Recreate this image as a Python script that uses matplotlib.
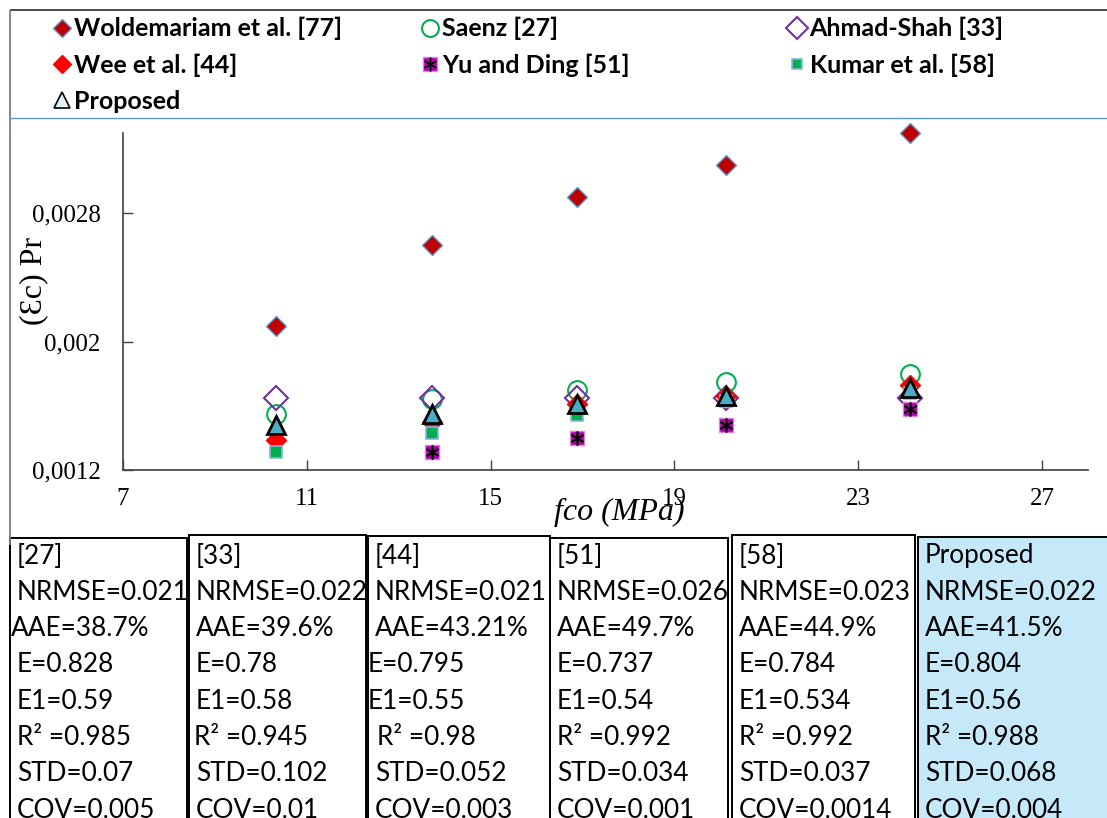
import numpy as np
import matplotlib
matplotlib.use("Agg")
import matplotlib.pyplot as plt
from matplotlib.lines import Line2D
from matplotlib.patches import Rectangle
from matplotlib.legend_handler import HandlerTuple

# ---------------- data ----------------
fco = [10.34, 13.73, 16.88, 20.13, 24.12]
woldemariam = [0.0021, 0.0026, 0.0029, 0.0031, 0.0033]
saenz = [0.00155, 0.00164, 0.0017, 0.00175, 0.0018]
ahmad_shah = [0.00165, 0.00165, 0.00165, 0.00165, 0.00165]
wee = [0.00139, 0.0015, 0.00161, 0.00166, 0.00173]
yu_ding = [np.nan, 0.00131, 0.0014, 0.00148, 0.00158]
kumar = [0.00131, 0.00143, 0.00154, 0.00163, 0.00168]
proposed = [0.00148, 0.00155, 0.00161, 0.00166, 0.00171]

series_labels = ["Woldemariam et al. [77]", "Saenz [27]", "Ahmad-Shah [33]",
                 "Wee et al. [44]", "Yu and Ding [51]", "Kumar et al. [58]", "Proposed"]

x_ticks = [7, 11, 15, 19, 23, 27]
y_ticks = [0.0012, 0.002, 0.0028]
y_tick_labels = ["0,0012", "0,002", "0,0028"]
x_label = "fco (MPa)"
y_label = "(\u0190c) Pr"

table_headers = ["[27]", "[33]", "[44]", "[51]", "[58]", "Proposed"]
nrmse = ["0.021", "0.022", "0.021", "0.026", "0.023", "0.022"]
aae = ["38.7%", "39.6%", "43.21%", "49.7%", "44.9%", "41.5%"]
e_vals = ["0.828", "0.78", "0.795", "0.737", "0.784", "0.804"]
e1_vals = ["0.59", "0.58", "0.55", "0.54", "0.534", "0.56"]
r2_vals = ["0.985", "0.945", "0.98", "0.992", "0.992", "0.988"]
std_vals = ["0.07", "0.102", "0.052", "0.034", "0.037", "0.068"]
cov_vals = ["0.005", "0.01", "0.003", "0.001", "0.0014", "0.004"]

# ---------------- styles ----------------
styles = [
    dict(marker="D", ms=10, mfc="#c00000", mec="#5b9bd5", mew=1.0),
    dict(marker="o", ms=13.5, mfc="none", mec="#00b050", mew=1.5),
    dict(marker="D", ms=12, mfc="none", mec="#7030a0", mew=1.5),
    dict(marker="D", ms=10, mfc="#ff0000", mec="#ff0000", mew=1.0),
    dict(marker="s", ms=10, mfc="#b000b0", mec="#e080e0", mew=1.0),
    dict(marker="s", ms=8, mfc="#00b050", mec="#8db3e2", mew=1.2),
    dict(marker="^", ms=13, mfc="#4bacc6", mec="black", mew=2.0),
]
series = [woldemariam, saenz, ahmad_shah, wee, yu_ding, kumar, proposed]
ASTERISK = (6, 2, 0)

W, H = 1107, 818
fig = plt.figure(figsize=(W / 100, H / 100), dpi=100)
fig.patch.set_facecolor("white")

bg = fig.add_axes([0, 0, 1, 1])
bg.set_xlim(0, W)
bg.set_ylim(H, 0)
bg.axis("off")
bg.set_zorder(0)

# outer chart frame
bg.plot([10, W], [10, 10], color="#404040", lw=1.3, solid_capstyle="butt")
bg.plot([10, 10], [10, 545], color="#7f7f7f", lw=1.3, solid_capstyle="butt")
bg.plot([10, W], [118, 118], color="#5b9bd5", lw=1.0, solid_capstyle="butt")

# ---------------- scatter axes ----------------
ax = fig.add_axes([123 / W, 1 - 470 / H, (1088 - 123) / W, (470 - 133) / H])
ax.set_zorder(2)
ax.patch.set_alpha(0)

for ys, st in zip(series, styles):
    ax.plot(fco, ys, ls="none", clip_on=False, **st)
    if st["marker"] == "s" and st["ms"] == 10:
        ax.plot(fco, ys, ls="none", marker=ASTERISK, ms=10, mec="black",
                mew=1.2, clip_on=False)

ax.set_xlim(7, 28)
ax.set_ylim(0.0012, 0.0033)
ax.set_xticks(x_ticks)
ax.set_xticklabels([str(t) for t in x_ticks])
ax.set_yticks(y_ticks)
ax.set_yticklabels(y_tick_labels)
for s in ["top", "right"]:
    ax.spines[s].set_visible(False)
for s in ["left", "bottom"]:
    ax.spines[s].set_color("#404040")
    ax.spines[s].set_linewidth(1.2)
ax.tick_params(direction="in", length=7, width=1.0, color="#404040",
               labelsize=18, labelfontfamily="Liberation Serif")
ax.tick_params(axis="x", pad=13)
ax.tick_params(axis="y", pad=16)

fig.text(619 / W, 1 - 512 / H, x_label, fontsize=23, style="italic",
         family="Liberation Serif", ha="center", va="center", zorder=5)
fig.text(34 / W, 1 - 281 / H, y_label, fontsize=23,
         family=["Liberation Serif", "DejaVu Serif"],
         rotation=90, ha="center", va="center")

# ---------------- legend ----------------
def proxy(i):
    st = dict(styles[i])
    st["ms"] = st["ms"] * 0.9
    if i == 6:
        st["mfc"] = "#dff1f9"
        st["mew"] = 1.2
    h = Line2D([], [], ls="none", **st)
    if i == 4:
        st["ms"] = st["ms"] * 1.1
        h = Line2D([], [], ls="none", **st)
        h2 = Line2D([], [], ls="none", marker=ASTERISK, ms=st["ms"], mec="black", mew=1.0)
        return (h, h2)
    return h

col_groups = [[0, 3, 6], [1, 4], [2, 5]]
col_x = [62, 430, 797]
for grp, cx in zip(col_groups, col_x):
    fig.legend([proxy(i) for i in grp], [series_labels[i] for i in grp],
               loc="upper left", bbox_to_anchor=((cx - 12.5) / W, 1 - 17 / H),
               bbox_transform=fig.transFigure, frameon=False,
               borderpad=0, borderaxespad=0, handlelength=1.0,
               handletextpad=0.0, labelspacing=0.53,
               prop=dict(family="Lato", weight="bold", size=18),
               handler_map={tuple: HandlerTuple(ndivide=1, pad=0)})

# ---------------- table ----------------
col_bounds = [(10, 187, 538), (189, 366, 535), (368, 550, 536),
              (550, 728, 538), (732, 915, 535), (918, 1115, 537)]
fills = ["white"] * 5 + ["#c5e9f9"]
nudge = {(0, 2): -6, (2, 3): -7, (2, 4): -7, (2, 5): 2, (1, 5): -2}
rows = [table_headers,
        ["NRMSE=" + v for v in nrmse],
        ["AAE=" + v for v in aae],
        ["E=" + v for v in e_vals],
        ["E1=" + v for v in e1_vals],
        ["R\u00b2 =" + v for v in r2_vals],
        ["STD=" + v for v in std_vals],
        ["COV=" + v for v in cov_vals]]
for ci, ((x0, x1, top), fc) in enumerate(zip(col_bounds, fills)):
    bg.add_patch(Rectangle((x0, top), x1 - x0, H + 20 - top, facecolor=fc,
                           edgecolor="black", lw=1.4))
    for ri, row in enumerate(rows):
        bg.text(x0 + 7 + nudge.get((ci, ri), 0), 556 + ri * 36.3, row[ci],
                fontsize=18.8, family="Lato", ha="left", va="center", color="black")

fig.savefig("out.png", dpi=100, facecolor="white")
